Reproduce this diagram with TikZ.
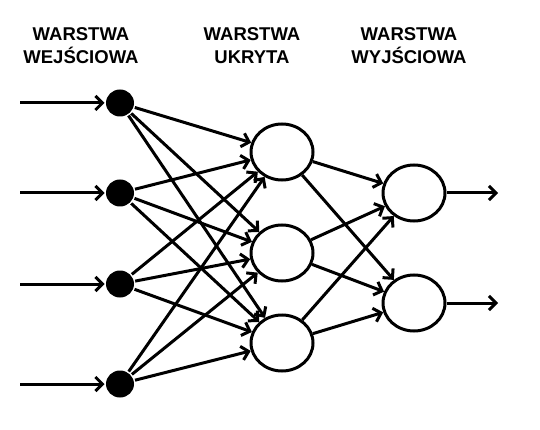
\documentclass[tikz,border=0pt]{standalone}
\usepackage{fontspec}
\setmainfont{Liberation Sans}
\usetikzlibrary{arrows.meta,shapes.geometric}
\begin{document}
\begin{tikzpicture}[x=1pt,y=1pt,yscale=-1,xscale=1,
    line width=3pt,
    arr/.style={-{Straight Barb[length=7pt,width=14pt]}},
    inneuron/.style={ellipse,fill=black,minimum width=28pt,minimum height=27pt,inner sep=0pt},
    neuron/.style={ellipse,draw,minimum width=62pt,minimum height=56pt,inner sep=0pt},
    layertitle/.style={align=center,font=\bfseries\fontsize{18.5}{23}\selectfont}]
    \useasboundingbox (0,0) rectangle (540,430);
    % Text Node
    \node[layertitle] (t1) at (81,46) {WARSTWA\\WEJŚCIOWA};
    \node[layertitle] (t2) at (252,46) {WARSTWA\\UKRYTA};
    \node[layertitle] (t3) at (409,46) {WARSTWA\\WYJŚCIOWA};
    % input layer
    \foreach \i/\y in {1/103,2/193,3/284,4/384} {
        \node[inneuron] (in\i) at (120,\y) {};
        \coordinate (s\i) at (20,\y);
        \draw[arr] (s\i) -- (in\i);
    }
    % hidden layer
    \foreach \j/\y in {1/152,2/253,3/343}
        \node[neuron] (h\j) at (282,\y) {};
    % output layer
    \foreach \k/\y in {1/193,2/303} {
        \node[neuron] (o\k) at (414,\y) {};
        \coordinate (e\k) at (498,\y);
        \draw[arr] (o\k) -- (e\k);
    }
    % connections
    \foreach \i in {1,...,4}
        \foreach \j in {1,2,3}
            \draw[arr] (in\i) -- (h\j);
    \foreach \j in {1,2,3}
        \foreach \k in {1,2}
            \draw[arr] (h\j) -- (o\k);
\end{tikzpicture}
\end{document}
